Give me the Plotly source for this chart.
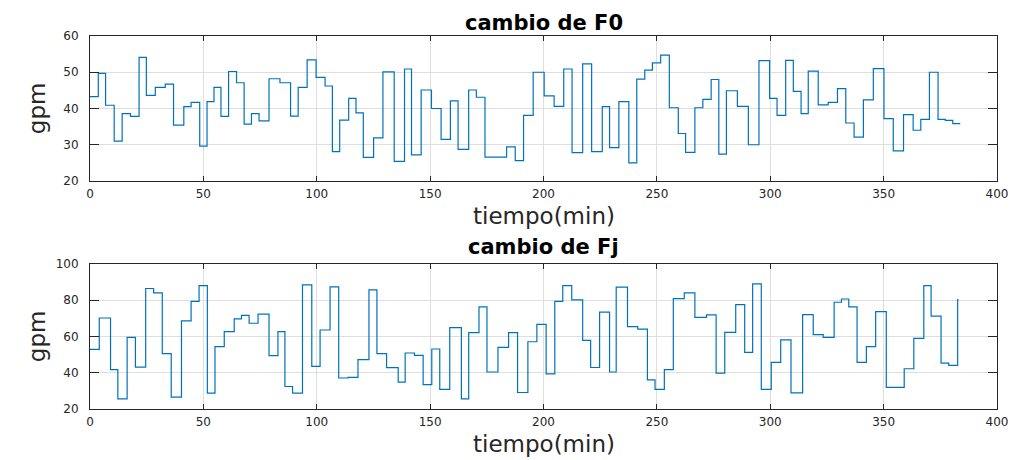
import plotly.graph_objects as go

# ---- data: step signals (time of change in min, new value in gpm) ----
f0_t = [0, 3.65, 6.87, 10.67, 14.18, 17.84, 21.64, 24.85, 28.8, 33.19, 36.84, 41.37, 44.59,
        48.39, 51.61, 54.68, 57.75, 61.11, 64.62, 67.98, 71.2, 74.56, 78.95, 83.77, 88.45,
        91.81, 95.76, 99.71, 103.67, 106.89, 110.12, 114.08, 117.3, 120.53, 125.07, 129.18,
        134.16, 138.71, 141.79, 146.04, 150.59, 154.84, 158.94, 162.32, 167.0, 170.38,
        174.19, 183.72, 187.54, 191.2, 195.45, 200.29, 204.69, 208.93, 212.59, 217.28,
        221.23, 225.92, 229.14, 233.24, 237.63, 241.14, 244.66, 248.02, 251.68, 255.49,
        259.44, 262.66, 266.76, 270.28, 273.94, 277.31, 280.67, 285.5, 290.34, 295.02,
        299.71, 303.0, 306.81, 310.18, 313.6, 316.76, 321.16, 325.55, 329.65, 333.31,
        336.97, 341.07, 345.46, 350.15, 354.25, 358.78, 363.03, 366.4, 370.2, 374.0,
        377.2, 380.5, 383.8]
f0_v = [43.3, 49.7, 40.9, 31.0, 38.6, 37.8, 54.1, 43.6, 45.8, 46.7, 35.4, 40.5, 41.7,
        29.6, 41.9, 45.8, 37.8, 50.2, 47.1, 35.7, 38.6, 36.6, 48.2, 47.1, 37.9,
        45.8, 53.4, 48.6, 46.2, 28.1, 36.8, 42.8, 38.8, 26.5, 31.9, 50.1,
        25.4, 50.9, 27.2, 45.1, 40.0, 31.5, 42.1, 28.7, 45.1, 43.1,
        26.6, 29.4, 25.6, 38.1, 50.0, 43.5, 40.6, 50.9, 27.8, 52.3,
        28.1, 40.5, 29.2, 41.9, 25.0, 48.1, 50.6, 52.6, 54.7, 40.2,
        33.1, 27.9, 40.2, 42.5, 48.0, 27.4, 44.9, 40.6, 30.0, 53.2,
        42.8, 38.1, 53.3, 44.7, 38.6, 50.3, 41.0, 41.7, 45.5, 36.0,
        32.1, 42.4, 51.0, 37.2, 28.3, 38.3, 34.0, 37.0, 50.0, 37.0,
        36.7, 35.8, 35.8]

fj_t = [0, 4.09, 9.06, 12.28, 16.37, 20.03, 24.56, 28.07, 31.87, 35.82, 40.35, 44.59, 48.1,
        51.75, 55.12, 59.21, 63.6, 66.81, 70.18, 74.12, 78.95, 82.89, 85.96, 89.33, 93.71,
        97.81, 101.47, 105.87, 109.68, 113.78, 118.18, 123.02, 126.54, 130.79, 135.92,
        139.0, 143.11, 146.92, 150.73, 154.25, 158.65, 163.78, 167.01, 171.55, 175.07,
        179.91, 184.6, 188.56, 193.11, 197.07, 201.17, 204.98, 208.49, 212.45, 217.28,
        220.79, 224.74, 229.14, 232.06, 237.04, 241.58, 245.83, 249.19, 253.29, 257.25,
        262.08, 266.76, 271.89, 276.13, 279.94, 284.77, 288.73, 292.24, 296.05, 300.44,
        304.61, 309.15, 314.28, 318.96, 323.35, 328.18, 331.41, 334.63, 338.29, 342.39,
        346.49, 351.17, 359.08, 363.32, 367.72, 370.94, 375.33, 378.7, 382.65, 383.0]
fj_v = [52.9, 70.2, 41.7, 25.6, 59.5, 43.1, 86.5, 84.1, 50.5, 26.5, 68.6, 79.4, 88.1,
        28.8, 54.4, 62.7, 69.7, 71.7, 67.3, 72.3, 49.4, 62.7, 32.4, 28.8, 88.5,
        43.5, 63.6, 87.4, 37.1, 37.4, 47.2, 85.7, 50.5, 42.8, 34.8,
        50.9, 49.6, 33.5, 53.1, 30.8, 64.9, 25.6, 62.1, 76.3, 40.4,
        54.0, 62.1, 29.1, 57.1, 66.7, 39.4, 79.4, 88.1, 80.2, 57.9,
        42.9, 73.4, 40.4, 87.2, 65.4, 64.1, 36.1, 30.8, 41.7, 80.9,
        84.1, 70.6, 71.9, 39.8, 62.3, 77.6, 51.2, 89.0, 30.8, 45.7,
        58.1, 28.9, 72.1, 61.0, 59.5, 78.9, 80.7, 76.3, 45.7, 54.4,
        73.7, 31.9, 42.2, 59.0, 88.1, 71.2, 45.3, 44.1, 80.4, 80.4]

x_ticks = [0, 50, 100, 150, 200, 250, 300, 350, 400]
f0_ticks = [20, 30, 40, 50, 60]
fj_ticks = [20, 40, 60, 80, 100]

titles = ["cambio de F0", "cambio de Fj"]
xlabel = "tiempo(min)"
ylabel = "gpm"

LINE = "#0072BD"
AX = "#262626"
GRID = "#dedede"
FONT = "DejaVu Sans"

fig = go.Figure()
fig.add_trace(go.Scatter(x=f0_t, y=f0_v, mode="lines", line=dict(color=LINE, width=1.2, shape="hv"),
                         xaxis="x", yaxis="y", showlegend=False))
fig.add_trace(go.Scatter(x=fj_t, y=fj_v, mode="lines", line=dict(color=LINE, width=1.2, shape="hv"),
                         xaxis="x2", yaxis="y2", showlegend=False))

def xax(domain_anchor):
    return dict(range=[0, 400], tickvals=x_ticks, ticks="inside", ticklen=5, tickcolor=AX,
                showline=True, linecolor=AX, linewidth=1, mirror="ticks",
                showgrid=True, gridcolor=GRID, gridwidth=1, zeroline=False,
                tickfont=dict(family=FONT, size=12, color=AX), anchor=domain_anchor,
                domain=[0, 1], ticklabelstandoff=2)

def yax(rng, ticks, dom, anchor):
    return dict(range=rng, tickvals=ticks, ticks="inside", ticklen=9, tickcolor=AX,
                showline=True, linecolor=AX, linewidth=1, mirror="ticks",
                showgrid=True, gridcolor=GRID, gridwidth=1, zeroline=False,
                tickfont=dict(family=FONT, size=12, color=AX), domain=dom, anchor=anchor,
                ticklabelstandoff=8)

top_dom = [0.6113, 1.0]
bot_dom = [0.0, 0.3887]

# the page body adds an 8px offset, so the figure is 8px smaller and margins compensate
fig.update_layout(
    width=1012, height=452,
    margin=dict(l=82, r=19, t=28, b=51),
    paper_bgcolor="white", plot_bgcolor="white",
    xaxis=xax("y"), yaxis=yax([20, 60], f0_ticks, top_dom, "x"),
    xaxis2=xax("y2"), yaxis2=yax([20, 100], fj_ticks, bot_dom, "x2"),
)

ann = []
ann.append(dict(text="<b>%s</b>" % titles[0], x=0.5, y=1.0737, xref="paper", yref="paper",
                showarrow=False, xanchor="center", yanchor="top",
                font=dict(family=FONT, size=21, color="black")))
ann.append(dict(text="<b>%s</b>" % titles[1], x=0.5, y=0.4343, xref="paper", yref="paper",
                showarrow=False, xanchor="center", yanchor="middle",
                font=dict(family=FONT, size=21, color="black")))
for yp in [0.5174, -0.0938]:
    ann.append(dict(text=xlabel, x=0.5, y=yp, xref="paper", yref="paper",
                    showarrow=False, xanchor="center", yanchor="middle",
                    font=dict(family=FONT, size=23, color=AX)))
for yp in [0.807, 0.1957]:
    ann.append(dict(text=ylabel, x=-0.0582, y=yp, xref="paper", yref="paper",
                    showarrow=False, xanchor="center", yanchor="middle", textangle=-90,
                    font=dict(family=FONT, size=23, color=AX)))
fig.update_layout(annotations=ann)

fig.write_html("out.html")
